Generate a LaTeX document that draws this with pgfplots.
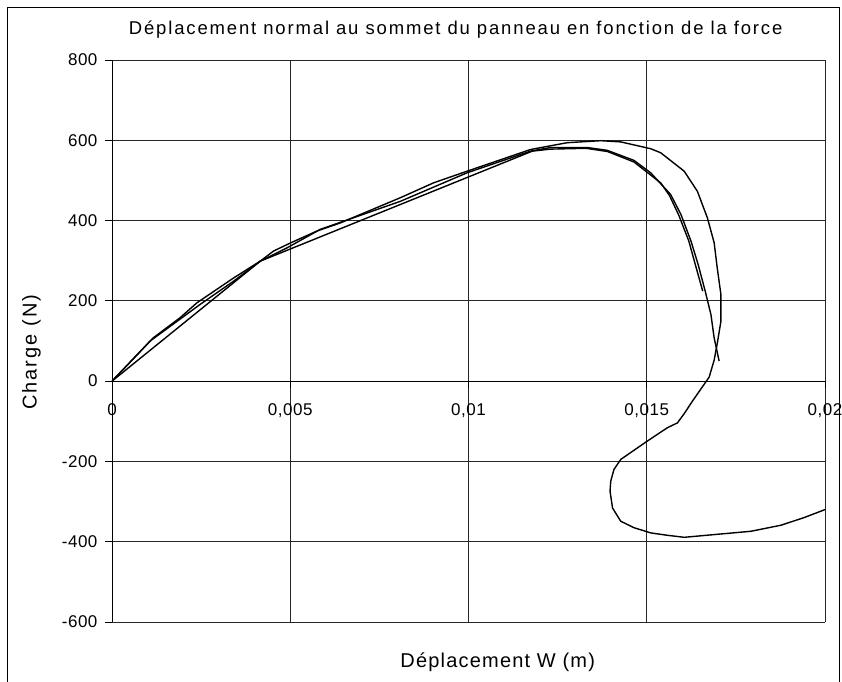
\documentclass[border=0pt]{standalone}
\usepackage{fontspec}
\setmainfont{Liberation Sans}
\newfontfamily\titlefont[LetterSpace=10]{Liberation Sans}
\newfontfamily\xlabfont[LetterSpace=6]{Liberation Sans}
\newfontfamily\ylabfont[LetterSpace=10]{Liberation Sans}
\newfontfamily\tickfont[LetterSpace=3]{Liberation Sans}
\usepackage{pgfplots}
\pgfplotsset{compat=1.18}
\begin{document}
\begin{tikzpicture}[x=1pt,y=1pt]
\useasboundingbox (-112,-59) rectangle (730,622);
\draw[line width=1pt] (-104,-70) -- (-104,614) -- (727,614) -- (727,-70);
\begin{axis}[
  at={(0,0)}, anchor=south west,
  scale only axis, width=713pt, height=562pt,
  xmin=0, xmax=0.02, ymin=-600, ymax=800,
  axis x line*=middle, axis y line*=left,
  hide obscured x ticks=false,
  xtick={0,0.005,0.01,0.015,0.02},
  xticklabels={0,{0,005},{0,01},{0,015},{0,02}},
  ytick={-600,-400,-200,0,200,400,600,800},
  yticklabels={-600,-400,-200,0,200,400,600,800},
  scaled x ticks=false,
  tick align=outside, major tick length=7pt,
  tick style={black, line width=0.8pt},
  axis line style={black, line width=0.9pt},
  grid=major,
  major grid style={black!85, line width=0.8pt},
  ticklabel style={font=\tickfont\fontsize{17}{20}\selectfont},
  xticklabel style={yshift=-12pt},
  yticklabel style={xshift=-4pt},
  title={Déplacement normal au sommet du panneau en fonction de la force},
  title style={at={(axis description cs:0.482,1.0427)}, anchor=center, yshift=0pt, font=\titlefont\fontsize{18.5}{22}\selectfont},
  xlabel={Déplacement W (m)},
  xlabel style={at={(axis description cs:0.541,-0.0712)}, anchor=center, font=\xlabfont\fontsize{20}{24}\selectfont},
  ylabel={Charge (N)},
  ylabel style={at={(axis description cs:-0.113,0.48)}, anchor=center, font=\ylabfont\fontsize{20}{24}\selectfont},
  clip=true,
]
% Curve A: outer curve with loop
\addplot[black, line width=1.4pt] coordinates {
(0,0) (0.00116,108) (0.00191,158) (0.00238,195) (0.00341,257) (0.00416,299)
(0.00453,324) (0.005,344) (0.00575,374) (0.0064,394) (0.00809,457) (0.00902,494)
(0.00996,523) (0.01174,577) (0.01277,594) (0.01371,599) (0.01427,596) (0.01511,579)
(0.01539,569) (0.01605,523) (0.01642,473) (0.0167,407) (0.01689,345) (0.01698,280)
(0.01708,216) (0.01708,149) (0.01698,95) (0.01689,52) (0.01675,10) (0.01628,-50)
(0.01605,-81) (0.01586,-104) (0.01558,-116) (0.01502,-149) (0.01427,-195) (0.01408,-220)
(0.01399,-249) (0.01397,-274) (0.01404,-316) (0.01427,-349) (0.01464,-365) (0.01511,-378)
(0.01558,-384) (0.01605,-389) (0.01717,-380) (0.01792,-374) (0.01876,-359) (0.01941,-340)
(0.02,-320)
};
% Curve B: smooth inner curve
\addplot[black, line width=1.4pt] coordinates {
(0,0) (0.00107,100) (0.00247,191) (0.00341,249) (0.00416,299) (0.00491,332)
(0.00584,378) (0.00809,448) (0.00996,519) (0.01174,573) (0.0123,582) (0.01333,582)
(0.01389,575) (0.01464,550) (0.01511,519) (0.01567,465) (0.01596,415) (0.01624,349)
(0.01644,291) (0.01664,224) (0.0168,166) (0.01689,108) (0.01703,50)
};
% Curve C: straight start
\addplot[black, line width=1.4pt] coordinates {
(0,0) (0.00416,299) (0.01179,573) (0.0123,578) (0.0133,580) (0.0139,572)
(0.01464,546) (0.01539,494) (0.01564,462) (0.0159,413) (0.01618,349) (0.01636,291)
(0.01657,224)
};
\end{axis}
\end{tikzpicture}
\end{document}
